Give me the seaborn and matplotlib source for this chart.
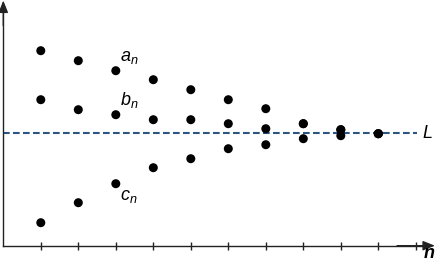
import matplotlib
matplotlib.use("Agg")
import matplotlib.pyplot as plt
import seaborn as sns
import pandas as pd
import numpy as np

# ---- data ----
n_vals = [1, 2, 3, 4, 5, 6, 7, 8, 9, 10]
a_vals = [19.5, 18.5, 17.5, 16.6, 15.6, 14.6, 13.7, 12.2, 11.6, 11.2]
b_vals = [14.6, 13.6, 13.1, 12.6, 12.6, 12.2, 11.7, 12.2, 11.6, 11.2]
c_vals = [2.3, 4.3, 6.2, 7.8, 8.7, 9.7, 10.1, 10.7, 11.0, 11.2]
L_value = 11.24
tick_positions = [1, 2, 3, 4, 5, 6, 7, 8, 9, 10, 11]

df = pd.DataFrame({
    "n": n_vals * 3,
    "value": a_vals + b_vals + c_vals,
    "seq": ["a"] * 10 + ["b"] * 10 + ["c"] * 10,
})

sns.set_style("white")
plt.rcParams["font.family"] = ["Liberation Sans", "DejaVu Sans"]
plt.rcParams["mathtext.fontset"] = "custom"
plt.rcParams["mathtext.it"] = "Liberation Sans:italic"
plt.rcParams["mathtext.rm"] = "Liberation Sans"
plt.rcParams["text.color"] = "black"

fig = plt.figure(figsize=(4.37, 2.66), dpi=100)
ax = fig.add_axes([0, 0, 1, 1])

axis_color = "#222222"

ax.hlines(L_value, 0, 11.03, colors="#2b5583", linestyles=(0, (3.2, 1.6)), lw=1.5, zorder=1)

sns.scatterplot(data=df, x="n", y="value", color="black", s=42, edgecolor="none",
                legend=False, ax=ax, zorder=3)

ax.set_xlim(-0.088, 11.565)
ax.set_ylim(-2.03, 24.57)

for s in ["top", "right"]:
    ax.spines[s].set_visible(False)
ax.spines["left"].set_position(("data", 0))
ax.spines["bottom"].set_position(("data", 0))
ax.spines["left"].set_bounds(0, 24.0)
ax.spines["bottom"].set_bounds(0, 11.3)
for s in ["left", "bottom"]:
    ax.spines[s].set_color(axis_color)
    ax.spines[s].set_linewidth(1.0)

ax.set_xticks(tick_positions)
ax.set_xticklabels([])
ax.set_yticks([])
ax.tick_params(axis="x", direction="inout", length=6, width=1.0, color=axis_color, bottom=True)
ax.set_xlabel("")
ax.set_ylabel("")

arrow_style = "-|>,head_length=0.4,head_width=0.16"
ax.annotate("", xy=(11.51, 0), xytext=(10.5, 0),
            arrowprops=dict(arrowstyle=arrow_style, color=axis_color, lw=1.0,
                            mutation_scale=18, shrinkA=0, shrinkB=0))
ax.annotate("", xy=(0, 24.52), xytext=(0, 22.0),
            arrowprops=dict(arrowstyle=arrow_style, color=axis_color, lw=1.0,
                            mutation_scale=18, shrinkA=0, shrinkB=0))

fs = 13
ax.text(3.125, 18.47, r"$a_n$", fontsize=fs, va="baseline", ha="left", color="black")
ax.text(3.125, 14.12, r"$b_n$", fontsize=fs, va="baseline", ha="left", color="black")
ax.text(3.125, 4.57, r"$c_n$", fontsize=fs, va="baseline", ha="left", color="black")
ax.text(11.18, L_value, "L", fontsize=fs, fontstyle="italic", va="center", ha="left", color="black")
ax.text(11.22, -1.23, "n", fontsize=fs, fontstyle="italic", fontweight="bold",
        va="baseline", ha="left", color="black")

fig.savefig("out.png", dpi=100)
